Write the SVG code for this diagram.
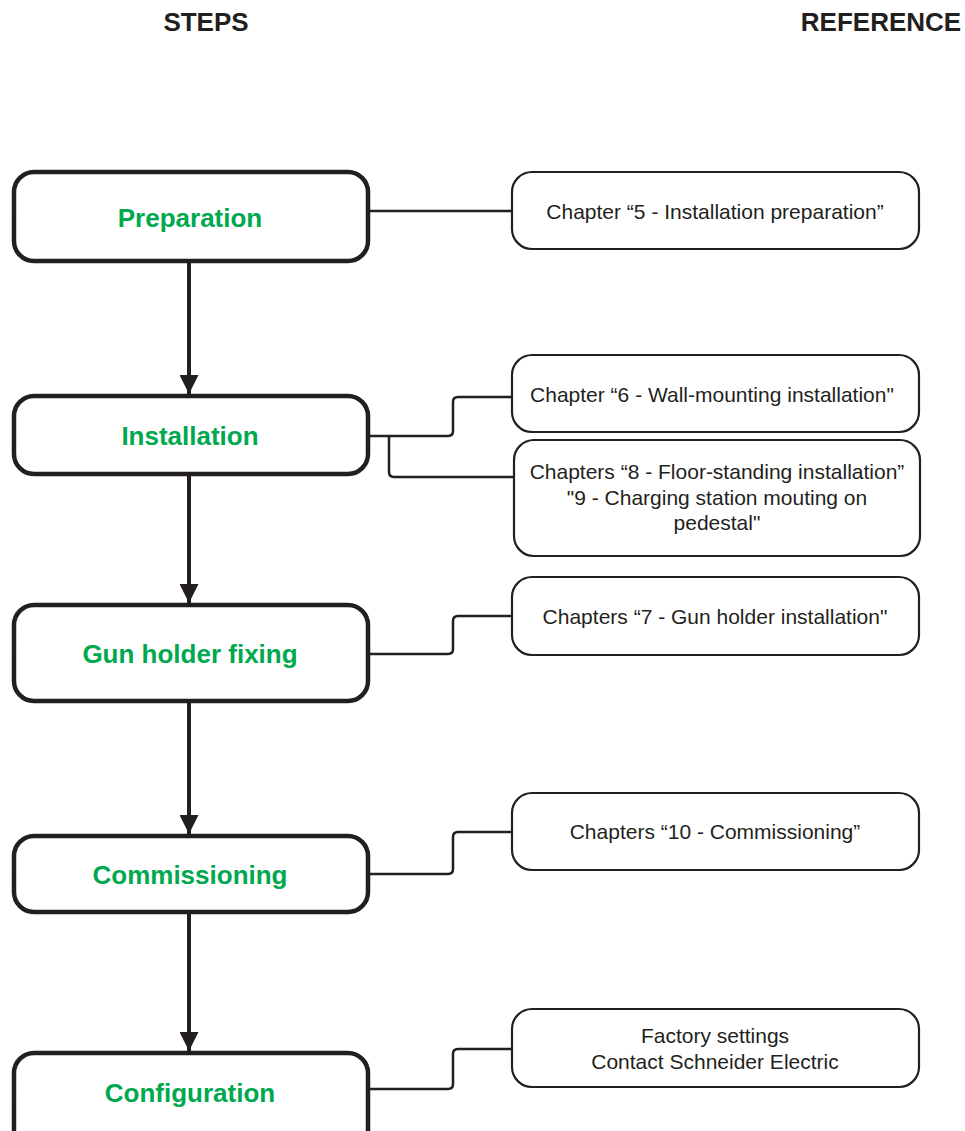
<svg xmlns="http://www.w3.org/2000/svg" width="965" height="1131" viewBox="0 0 965 1131">
<style>
.step{fill:#fff;stroke:#231f20;stroke-width:4.5}
.ref{fill:#fff;stroke:#231f20;stroke-width:2.2}
.st{font-family:"Liberation Sans",Arial,sans-serif;font-weight:bold;font-size:26px;fill:#00a84f;text-anchor:middle}
.rt{font-family:"Liberation Sans",Arial,sans-serif;font-size:21px;fill:#231f20;text-anchor:middle}
.hd{font-family:"Liberation Sans",Arial,sans-serif;font-weight:bold;font-size:26px;fill:#231f20;text-anchor:middle}
.arr{stroke:#231f20;stroke-width:4;fill:none}
.con{stroke:#231f20;stroke-width:2.5;fill:none}
</style>
<defs>
<marker id="ah" viewBox="0 0 10 10" refX="10" refY="5" markerUnits="userSpaceOnUse" markerWidth="27" markerHeight="19" orient="auto">
<path d="M0,0 L10,5 L0,10 Z" fill="#231f20"/>
</marker>
</defs>
<rect width="965" height="1131" fill="#fff"/>
<text class="hd" x="206" y="31">STEPS</text>
<text class="hd" x="881" y="31">REFERENCE</text>

<g id="connectors">
<line class="arr" x1="189" y1="263" x2="189" y2="394" marker-end="url(#ah)"/>
<line class="arr" x1="189" y1="476" x2="189" y2="603" marker-end="url(#ah)"/>
<line class="arr" x1="189" y1="703" x2="189" y2="834" marker-end="url(#ah)"/>
<line class="arr" x1="189" y1="914" x2="189" y2="1051" marker-end="url(#ah)"/>
<path class="con" d="M370,211 H512"/>
<path class="con" d="M370,436 H448 Q453,436 453,431 V402 Q453,397 458,397 H512"/>
<path class="con" d="M389,436 V472 Q389,477 394,477 H514"/>
<path class="con" d="M370,654 H448 Q453,654 453,649 V621 Q453,616 458,616 H512"/>
<path class="con" d="M370,874 H448 Q453,874 453,869 V837 Q453,832 458,832 H512"/>
<path class="con" d="M370,1089 H448 Q453,1089 453,1084 V1054 Q453,1049 458,1049 H512"/>
</g>

<g id="n-preparation"><rect class="step" x="14" y="172" width="354" height="89" rx="20"/><text class="st" x="190" y="227">Preparation</text></g>
<g id="n-installation"><rect class="step" x="14" y="396" width="354" height="78" rx="20"/><text class="st" x="190" y="445">Installation</text></g>
<g id="n-gunholder"><rect class="step" x="14" y="605" width="354" height="96" rx="20"/><text class="st" x="190" y="663">Gun holder fixing</text></g>
<g id="n-commissioning"><rect class="step" x="14" y="836" width="354" height="76" rx="20"/><text class="st" x="190" y="884">Commissioning</text></g>
<g id="n-configuration"><rect class="step" x="14" y="1053" width="354" height="100" rx="20"/><text class="st" x="190" y="1102">Configuration</text></g>

<g id="r-ch5"><rect class="ref" x="512" y="172" width="407" height="77" rx="20"/><text class="rt" x="715" y="219">Chapter “5 - Installation preparation”</text></g>
<g id="r-ch6"><rect class="ref" x="512" y="355" width="407" height="77" rx="20"/><text class="rt" x="712" y="402">Chapter “6 - Wall-mounting installation"</text></g>
<g id="r-ch89"><rect class="ref" x="514" y="440" width="406" height="116" rx="20"/><text class="rt" x="717" y="479">Chapters “8 - Floor-standing installation”</text><text class="rt" x="717" y="505">"9 - Charging station mouting on</text><text class="rt" x="717" y="530">pedestal"</text></g>
<g id="r-ch7"><rect class="ref" x="512" y="577" width="407" height="78" rx="20"/><text class="rt" x="715" y="624">Chapters “7 - Gun holder installation"</text></g>
<g id="r-ch10"><rect class="ref" x="512" y="793" width="407" height="77" rx="20"/><text class="rt" x="715" y="839">Chapters “10 - Commissioning”</text></g>
<g id="r-factory"><rect class="ref" x="512" y="1009" width="407" height="78" rx="20"/><text class="rt" x="715" y="1043">Factory settings</text><text class="rt" x="715" y="1069">Contact Schneider Electric</text></g>
</svg>
